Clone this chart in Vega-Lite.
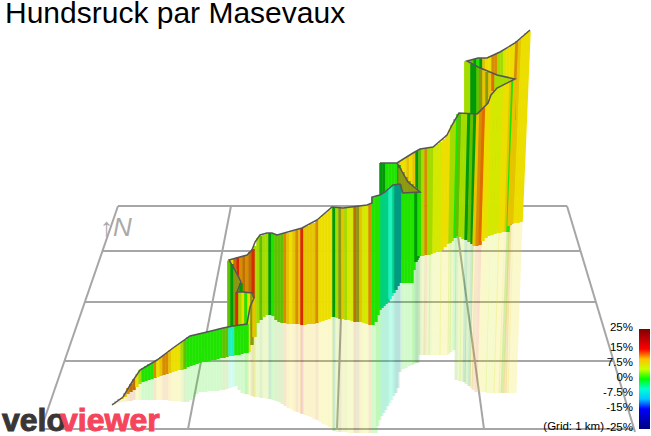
{
  "$schema": "https://vega.github.io/schema/vega-lite/v6.json",
  "width": 651,
  "height": 436,
  "padding": 0,
  "autosize": {"type": "none"},
  "background": "white",
  "title": {"text": "Hundsruck par Masevaux", "anchor": "start", "font": "Liberation Sans", "fontSize": 30, "fontWeight": "normal", "color": "#000", "dx": 5, "dy": 29, "offset": 0, "frame": "group"},
  "config": {"view": {"stroke": null}, "axis": {"disable": true}},
  "datasets": {
    "grid": [
      {"id": "h1", "i": 0, "x": 118, "y": 206}, {"id": "h1", "i": 1, "x": 567, "y": 206},
      {"id": "h2", "i": 0, "x": 103, "y": 251}, {"id": "h2", "i": 1, "x": 581, "y": 251},
      {"id": "h3", "i": 0, "x": 85, "y": 302}, {"id": "h3", "i": 1, "x": 596, "y": 302},
      {"id": "h4", "i": 0, "x": 65, "y": 361}, {"id": "h4", "i": 1, "x": 614, "y": 361},
      {"id": "h5", "i": 0, "x": 41, "y": 429}, {"id": "h5", "i": 1, "x": 635, "y": 429},
      {"id": "v1", "i": 0, "x": 118, "y": 206}, {"id": "v1", "i": 1, "x": 41, "y": 429},
      {"id": "v2", "i": 0, "x": 231, "y": 206}, {"id": "v2", "i": 1, "x": 188, "y": 429},
      {"id": "v3", "i": 0, "x": 345, "y": 206}, {"id": "v3", "i": 1, "x": 337, "y": 429},
      {"id": "v4", "i": 0, "x": 454, "y": 206}, {"id": "v4", "i": 1, "x": 484, "y": 429},
      {"id": "v5", "i": 0, "x": 567, "y": 206}, {"id": "v5", "i": 1, "x": 635, "y": 432}
    ],
    "wall": [
      {"x":466,"t":61,"x2":466,"b":200,"c":"l"},{"x":469,"t":60,"x2":469,"b":200,"c":"l"},{"x":472,"t":60,"x2":472,"b":200,"c":"mg"},{"x":475,"t":59,"x2":475,"b":200,"c":"dg"},{"x":478,"t":58,"x2":478,"b":200,"c":"g"},{"x":481,"t":58,"x2":481,"b":200,"c":"dg"},{"x":484,"t":58,"x2":484,"b":200,"c":"gd"},{"x":487,"t":58,"x2":487,"b":200,"c":"y"},{"x":490,"t":56,"x2":490,"b":200,"c":"y"},{"x":493,"t":55,"x2":493,"b":200,"c":"o"},{"x":496,"t":54,"x2":496,"b":200,"c":"o"},{"x":499,"t":52,"x2":499,"b":200,"c":"l"},{"x":502,"t":51,"x2":502,"b":200,"c":"l"},{"x":505,"t":49,"x2":505,"b":200,"c":"yg"},{"x":508,"t":48,"x2":508,"b":200,"c":"y"},{"x":511,"t":46,"x2":511,"b":200,"c":"y"},{"x":514,"t":44,"x2":507,"b":200,"c":"y"},
      {"x":517,"t":41,"x2":510,"b":225,"rx":505,"rb":393,"c":"o"},{"x":520,"t":39,"x2":512,"b":224,"rx":507,"rb":393,"c":"gd"},{"x":523,"t":36,"x2":515,"b":223,"rx":509,"rb":393,"c":"y"},{"x":526,"t":33,"x2":518,"b":223,"rx":512,"rb":393,"c":"y"},{"x":529,"t":31,"x2":521,"b":222,"rx":515,"rb":393,"c":"y"},
      {"x":466,"t":62,"x2":466,"b":120,"c":"l"},{"x":469,"t":63,"x2":469,"b":120,"c":"l"},{"x":472,"t":64,"x2":472,"b":120,"c":"dg"},{"x":475,"t":65,"x2":475,"b":120,"c":"dg"},{"x":478,"t":67,"x2":478,"b":120,"c":"mg"},{"x":481,"t":68,"x2":481,"b":120,"c":"ol"},{"x":484,"t":70,"x2":484,"b":120,"c":"gd"},{"x":487,"t":72,"x2":487,"b":120,"c":"ol"},{"x":490,"t":73,"x2":490,"b":120,"c":"gd"},{"x":493,"t":74,"x2":493,"b":120,"c":"ro"},{"x":496,"t":75,"x2":496,"b":120,"c":"l"},{"x":499,"t":76,"x2":499,"b":120,"c":"l"},{"x":502,"t":77,"x2":502,"b":120,"c":"l"},{"x":505,"t":77,"x2":505,"b":120,"c":"l"},{"x":508,"t":78,"x2":508,"b":120,"c":"l"},{"x":511,"t":78,"x2":511,"b":120,"c":"l"},{"x":514,"t":79,"x2":514,"b":120,"c":"g"},
      {"x":399,"t":162,"x2":399,"b":260,"c":"gd"},{"x":402,"t":160,"x2":402,"b":260,"c":"y"},{"x":405,"t":158,"x2":405,"b":260,"c":"y"},{"x":408,"t":156,"x2":408,"b":260,"c":"gd"},{"x":411,"t":155,"x2":411,"b":260,"c":"y"},{"x":414,"t":153,"x2":414,"b":260,"c":"gd"},{"x":417,"t":151,"x2":417,"b":260,"c":"dg"},
      {"x":420,"t":149,"x2":420,"b":256,"rx":420,"rb":355,"c":"mg"},{"x":423,"t":149,"x2":423,"b":256,"rx":423,"rb":355,"c":"l"},{"x":426,"t":148,"x2":426,"b":255,"rx":425,"rb":355,"c":"o"},{"x":429,"t":148,"x2":429,"b":255,"rx":428,"rb":355,"c":"l"},{"x":432,"t":147,"x2":431,"b":254,"rx":430,"rb":355,"c":"l"},{"x":435,"t":146,"x2":434,"b":253,"rx":433,"rb":355,"c":"yg"},{"x":438,"t":144,"x2":437,"b":252,"rx":436,"rb":355,"c":"yg"},{"x":441,"t":142,"x2":440,"b":252,"rx":439,"rb":355,"c":"yg"},{"x":444,"t":139,"x2":442,"b":250,"rx":441,"rb":355,"c":"y"},{"x":447,"t":135,"x2":445,"b":247,"rx":444,"rb":355,"c":"y"},{"x":450,"t":130,"x2":448,"b":244,"rx":447,"rb":355,"c":"y"},{"x":452,"t":125,"x2":450,"b":243,"rx":449,"rb":354,"c":"l"},{"x":455,"t":119,"x2":452,"b":241,"rx":451,"rb":352,"c":"l"},{"x":458,"t":114,"x2":455,"b":238,"rx":454,"rb":350,"c":"g"},
      {"x":460,"t":113,"x2":457,"b":236,"rx":456,"rb":380,"c":"mg"},{"x":463,"t":113,"x2":460,"b":237,"rx":459,"rb":381,"c":"l"},{"x":466,"t":113,"x2":463,"b":239,"rx":461,"rb":381,"c":"l"},{"x":469,"t":114,"x2":466,"b":240,"rx":464,"rb":382,"c":"dg"},{"x":472,"t":114,"x2":469,"b":242,"rx":466,"rb":384,"c":"mg"},{"x":475,"t":114,"x2":472,"b":244,"rx":469,"rb":386,"c":"dg"},{"x":478,"t":114,"x2":474,"b":246,"rx":471,"rb":388,"c":"gd"},{"x":481,"t":112,"x2":477,"b":246,"rx":473,"rb":390,"c":"o"},{"x":484,"t":108,"x2":480,"b":245,"rx":476,"rb":392,"c":"ro"},{"x":487,"t":104,"x2":483,"b":241,"rx":479,"rb":392,"c":"y"},{"x":490,"t":97,"x2":486,"b":238,"rx":482,"rb":392,"c":"y"},{"x":493,"t":91,"x2":489,"b":236,"rx":485,"rb":392,"c":"yg"},{"x":496,"t":89,"x2":492,"b":235,"rx":487,"rb":393,"c":"yg"},{"x":499,"t":87,"x2":495,"b":234,"rx":490,"rb":393,"c":"yg"},{"x":502,"t":85,"x2":498,"b":233,"rx":493,"rb":393,"c":"yg"},{"x":505,"t":84,"x2":500,"b":233,"rx":495,"rb":393,"c":"y"},{"x":508,"t":82,"x2":503,"b":232,"rx":498,"rb":393,"c":"y"},{"x":511,"t":81,"x2":506,"b":232,"rx":500,"rb":393,"c":"gd"},{"x":513,"t":80,"x2":508,"b":232,"rx":502,"rb":393,"c":"g"},{"x":515,"t":79,"x2":509,"b":226,"rx":503,"rb":393,"c":"gd"},
      {"x":381,"t":163,"x2":381,"b":200,"c":"dg"},{"x":384,"t":163,"x2":384,"b":200,"c":"dg"},{"x":387,"t":163,"x2":387,"b":200,"c":"g"},{"x":390,"t":163,"x2":390,"b":200,"c":"g"},{"x":393,"t":163,"x2":393,"b":200,"c":"g"},{"x":396,"t":163,"x2":396,"b":200,"c":"g"},{"x":399,"t":165,"x2":399,"b":200,"c":"dg"},
      {"x":400,"t":168,"x2":400,"b":200,"c":"ol"},{"x":403,"t":172,"x2":403,"b":200,"c":"ol"},{"x":406,"t":177,"x2":406,"b":200,"c":"ol"},{"x":409,"t":181,"x2":409,"b":200,"c":"ol"},{"x":412,"t":184,"x2":412,"b":200,"c":"ol"},{"x":415,"t":187,"x2":415,"b":200,"c":"ol"},{"x":418,"t":190,"x2":418,"b":200,"c":"ol"},
      {"x":373,"t":197,"x2":373,"b":325,"rx":373,"rb":433,"c":"g"},{"x":376,"t":196,"x2":376,"b":322,"rx":376,"rb":433,"c":"g"},{"x":378,"t":195,"x2":378,"b":315,"rx":378,"rb":426,"c":"g"},{"x":380,"t":195,"x2":380,"b":310,"rx":380,"rb":420,"c":"g"},{"x":382,"t":194,"x2":382,"b":308,"rx":382,"rb":416,"c":"t"},{"x":384,"t":193,"x2":384,"b":306,"rx":384,"rb":413,"c":"t"},{"x":386,"t":191,"x2":386,"b":304,"rx":386,"rb":410,"c":"t"},{"x":388,"t":189,"x2":388,"b":302,"rx":388,"rb":406,"c":"t"},{"x":390,"t":187,"x2":390,"b":299,"rx":390,"rb":403,"c":"c"},{"x":392,"t":186,"x2":392,"b":296,"rx":392,"rb":400,"c":"c"},{"x":394,"t":185,"x2":394,"b":293,"rx":394,"rb":396,"c":"t"},{"x":396,"t":185,"x2":396,"b":290,"rx":396,"rb":393,"c":"dt"},{"x":398,"t":184,"x2":398,"b":286,"rx":398,"rb":388,"c":"dt"},{"x":400,"t":184,"x2":400,"b":283,"rx":400,"rb":372,"c":"dt"},{"x":403,"t":193,"x2":403,"b":283,"rx":403,"rb":369,"c":"g"},{"x":406,"t":193,"x2":406,"b":283,"rx":406,"rb":368,"c":"g"},{"x":409,"t":193,"x2":409,"b":283,"rx":409,"rb":366,"c":"g"},{"x":412,"t":192,"x2":412,"b":283,"rx":412,"rb":365,"c":"g"},{"x":414,"t":192,"x2":414,"b":270,"rx":414,"rb":364,"c":"g"},{"x":416,"t":192,"x2":416,"b":262,"rx":416,"rb":363,"c":"dg"},{"x":418,"t":192,"x2":418,"b":258,"rx":418,"rb":363,"c":"dg"},{"x":419,"t":192,"x2":419,"b":256,"c":"g"},
      {"x":255,"t":246,"x2":255,"b":337,"rx":255,"rb":397,"c":"l"},{"x":258,"t":238,"x2":258,"b":323,"rx":258,"rb":397,"c":"l"},{"x":261,"t":236,"x2":261,"b":320,"rx":261,"rb":398,"c":"mg"},{"x":264,"t":235,"x2":264,"b":317,"rx":264,"rb":398,"c":"l"},{"x":267,"t":234,"x2":267,"b":315,"rx":267,"rb":399,"c":"l"},{"x":270,"t":233,"x2":270,"b":315,"rx":270,"rb":399,"c":"dg"},{"x":273,"t":234,"x2":273,"b":316,"rx":273,"rb":400,"c":"g"},{"x":276,"t":235,"x2":276,"b":320,"rx":276,"rb":401,"c":"mg"},{"x":279,"t":235,"x2":279,"b":322,"rx":279,"rb":402,"c":"mg"},{"x":282,"t":234,"x2":282,"b":323,"rx":282,"rb":404,"c":"mg"},{"x":285,"t":233,"x2":285,"b":323,"rx":285,"rb":406,"c":"o"},{"x":288,"t":233,"x2":288,"b":324,"rx":288,"rb":408,"c":"gd"},{"x":291,"t":232,"x2":291,"b":324,"rx":291,"rb":409,"c":"y"},{"x":294,"t":231,"x2":294,"b":324,"rx":294,"rb":411,"c":"gd"},{"x":297,"t":230,"x2":297,"b":324,"rx":297,"rb":412,"c":"o"},{"x":300,"t":229,"x2":300,"b":324,"rx":300,"rb":413,"c":"gd"},{"x":302,"t":228,"x2":302,"b":325,"rx":302,"rb":414,"c":"r"},{"x":305,"t":227,"x2":305,"b":325,"rx":305,"rb":415,"c":"gd"},{"x":308,"t":226,"x2":308,"b":324,"rx":308,"rb":416,"c":"gd"},{"x":311,"t":224,"x2":311,"b":324,"rx":311,"rb":417,"c":"gd"},{"x":314,"t":223,"x2":314,"b":324,"rx":314,"rb":419,"c":"gd"},{"x":317,"t":220,"x2":317,"b":323,"rx":317,"rb":420,"c":"o"},{"x":320,"t":218,"x2":320,"b":322,"rx":320,"rb":422,"c":"y"},{"x":323,"t":215,"x2":323,"b":321,"rx":323,"rb":424,"c":"y"},{"x":326,"t":213,"x2":326,"b":320,"rx":326,"rb":425,"c":"y"},{"x":329,"t":210,"x2":329,"b":319,"rx":329,"rb":427,"c":"y"},{"x":332,"t":207,"x2":332,"b":317,"rx":332,"rb":429,"c":"y"},{"x":334,"t":207,"x2":334,"b":317,"rx":334,"rb":431,"c":"dg"},{"x":337,"t":208,"x2":337,"b":318,"rx":337,"rb":432,"c":"l"},{"x":340,"t":208,"x2":340,"b":319,"rx":340,"rb":432,"c":"ol"},{"x":343,"t":208,"x2":343,"b":319,"rx":343,"rb":432,"c":"gd"},{"x":346,"t":207,"x2":346,"b":320,"rx":346,"rb":432,"c":"l"},{"x":349,"t":207,"x2":349,"b":320,"rx":349,"rb":433,"c":"yg"},{"x":352,"t":207,"x2":352,"b":321,"rx":352,"rb":433,"c":"yg"},{"x":355,"t":206,"x2":355,"b":322,"rx":355,"rb":433,"c":"do"},{"x":358,"t":206,"x2":358,"b":322,"rx":358,"rb":433,"c":"ol"},{"x":361,"t":206,"x2":361,"b":322,"rx":361,"rb":433,"c":"gd"},{"x":364,"t":205,"x2":364,"b":323,"rx":364,"rb":433,"c":"yg"},{"x":367,"t":205,"x2":367,"b":324,"rx":367,"rb":433,"c":"yg"},{"x":370,"t":204,"x2":370,"b":325,"rx":370,"rb":433,"c":"o"},
      {"x":229,"t":260,"x2":229,"b":330,"c":"y"},{"x":232,"t":259,"x2":232,"b":330,"c":"y"},{"x":235,"t":258,"x2":235,"b":330,"c":"do"},{"x":238,"t":257,"x2":238,"b":330,"c":"r"},{"x":241,"t":257,"x2":241,"b":330,"c":"o"},{"x":244,"t":256,"x2":244,"b":330,"c":"do"},{"x":247,"t":255,"x2":247,"b":330,"c":"o"},{"x":250,"t":252,"x2":250,"b":330,"c":"do"},{"x":253,"t":249,"x2":253,"b":330,"c":"r"},
      {"x":229,"t":261,"x2":229,"b":330,"c":"mg"},{"x":232,"t":264,"x2":232,"b":330,"c":"dg"},{"x":235,"t":269,"x2":235,"b":330,"c":"ol"},{"x":238,"t":275,"x2":238,"b":330,"c":"ol"},{"x":241,"t":283,"x2":241,"b":330,"c":"dg"},
      {"x":237,"t":292,"x2":237,"b":330,"c":"r"},{"x":240,"t":292,"x2":240,"b":330,"c":"l"},{"x":243,"t":292,"x2":243,"b":330,"c":"y"},{"x":246,"t":292,"x2":246,"b":330,"c":"g"},{"x":249,"t":293,"x2":249,"b":352,"rx":249,"rb":395,"c":"y"},{"x":252,"t":294,"x2":252,"b":345,"rx":252,"rb":396,"c":"ol"},{"x":254,"t":298,"x2":254,"b":337,"rx":254,"rb":397,"c":"gd"},
      {"x":114,"t":403,"x2":114,"b":404,"rx":114,"rb":405,"c":"y"},{"x":116,"t":401,"x2":116,"b":402,"rx":116,"rb":404,"c":"y"},{"x":119,"t":399,"x2":119,"b":400,"rx":119,"rb":403,"c":"gd"},{"x":122,"t":398,"x2":122,"b":399,"rx":122,"rb":402,"c":"gd"},{"x":125,"t":393,"x2":125,"b":397,"rx":125,"rb":402,"c":"gd"},{"x":128,"t":388,"x2":128,"b":394,"rx":128,"rb":401,"c":"o"},{"x":131,"t":384,"x2":131,"b":392,"rx":131,"rb":401,"c":"do"},{"x":134,"t":379,"x2":134,"b":390,"rx":134,"rb":400,"c":"do"},{"x":137,"t":374,"x2":137,"b":387,"rx":137,"rb":400,"c":"y"},{"x":140,"t":370,"x2":140,"b":384,"rx":140,"rb":400,"c":"l"},{"x":143,"t":368,"x2":143,"b":382,"rx":143,"rb":400,"c":"g"},{"x":146,"t":366,"x2":146,"b":381,"rx":146,"rb":400,"c":"g"},{"x":149,"t":364,"x2":149,"b":380,"rx":149,"rb":400,"c":"g"},{"x":152,"t":363,"x2":152,"b":379,"rx":152,"rb":400,"c":"g"},{"x":155,"t":361,"x2":155,"b":378,"rx":155,"rb":400,"c":"o"},{"x":158,"t":359,"x2":158,"b":377,"rx":158,"rb":400,"c":"y"},{"x":161,"t":357,"x2":161,"b":376,"rx":161,"rb":400,"c":"gd"},{"x":164,"t":355,"x2":164,"b":375,"rx":164,"rb":400,"c":"o"},{"x":167,"t":353,"x2":167,"b":374,"rx":167,"rb":400,"c":"o"},{"x":170,"t":350,"x2":170,"b":373,"rx":170,"rb":401,"c":"gd"},{"x":173,"t":348,"x2":173,"b":372,"rx":173,"rb":401,"c":"y"},{"x":176,"t":346,"x2":176,"b":371,"rx":176,"rb":401,"c":"y"},{"x":179,"t":344,"x2":179,"b":370,"rx":179,"rb":401,"c":"y"},{"x":182,"t":342,"x2":182,"b":370,"rx":182,"rb":402,"c":"l"},{"x":185,"t":340,"x2":185,"b":369,"rx":185,"rb":402,"c":"mg"},{"x":188,"t":337,"x2":188,"b":367,"rx":188,"rb":402,"c":"g"},{"x":191,"t":336,"x2":191,"b":366,"rx":191,"rb":400,"c":"g"},{"x":194,"t":335,"x2":194,"b":365,"rx":194,"rb":397,"c":"g"},{"x":197,"t":334,"x2":197,"b":364,"rx":197,"rb":394,"c":"g"},{"x":200,"t":333,"x2":200,"b":363,"rx":200,"rb":392,"c":"g"},{"x":203,"t":333,"x2":203,"b":362,"rx":203,"rb":392,"c":"g"},{"x":206,"t":332,"x2":206,"b":362,"rx":206,"rb":392,"c":"g"},{"x":209,"t":332,"x2":209,"b":361,"rx":209,"rb":391,"c":"g"},{"x":212,"t":331,"x2":212,"b":360,"rx":212,"rb":391,"c":"g"},{"x":215,"t":330,"x2":215,"b":360,"rx":215,"rb":391,"c":"g"},{"x":218,"t":329,"x2":218,"b":359,"rx":218,"rb":391,"c":"g"},{"x":221,"t":329,"x2":221,"b":358,"rx":221,"rb":390,"c":"g"},{"x":224,"t":328,"x2":224,"b":358,"rx":224,"rb":390,"c":"mg"},{"x":227,"t":327,"x2":227,"b":357,"rx":227,"rb":389,"c":"mg"},{"x":230,"t":327,"x2":230,"b":356,"rx":230,"rb":388,"c":"c"},{"x":233,"t":326,"x2":233,"b":356,"rx":233,"rb":387,"c":"c"},{"x":236,"t":326,"x2":236,"b":355,"rx":236,"rb":386,"c":"g"},{"x":239,"t":325,"x2":239,"b":355,"rx":239,"rb":390,"c":"g"},{"x":242,"t":325,"x2":242,"b":354,"rx":242,"rb":393,"c":"g"},{"x":245,"t":324,"x2":245,"b":353,"rx":245,"rb":394,"c":"g"},{"x":247,"t":324,"x2":247,"b":353,"rx":247,"rb":394,"c":"g"}
    ],
    "ribbon": [
      {"i":0,"x":112,"y":405},{"i":1,"x":123,"y":397},{"i":2,"x":132,"y":382},{"i":3,"x":140,"y":370},{"i":4,"x":157,"y":360},{"i":5,"x":173,"y":348},{"i":6,"x":190,"y":336},{"i":7,"x":207,"y":332},{"i":8,"x":223,"y":328},{"i":9,"x":233,"y":326},{"i":10,"x":247,"y":324},{"i":11,"x":250,"y":307},{"i":12,"x":254,"y":298},{"i":13,"x":252,"y":293},{"i":14,"x":243,"y":292},{"i":15,"x":237,"y":292},{"i":16,"x":241,"y":282},{"i":17,"x":235,"y":270},{"i":18,"x":229,"y":260},{"i":19,"x":247,"y":255},{"i":20,"x":252,"y":250},{"i":21,"x":255,"y":242},{"i":22,"x":260,"y":235},{"i":23,"x":267,"y":233},{"i":24,"x":272,"y":233},{"i":25,"x":277,"y":235},{"i":26,"x":302,"y":228},{"i":27,"x":317,"y":220},{"i":28,"x":332,"y":207},{"i":29,"x":343,"y":208},{"i":30,"x":367,"y":205},{"i":31,"x":372,"y":203},{"i":32,"x":372,"y":197},{"i":33,"x":380,"y":195},{"i":34,"x":385,"y":192},{"i":35,"x":393,"y":185},{"i":36,"x":400,"y":184},{"i":37,"x":403,"y":193},{"i":38,"x":420,"y":192},{"i":39,"x":408,"y":182},{"i":40,"x":400,"y":168},{"i":41,"x":397,"y":163},{"i":42,"x":380,"y":163},{"i":43,"x":397,"y":163},{"i":44,"x":413,"y":153},{"i":45,"x":420,"y":149},{"i":46,"x":433,"y":147},{"i":47,"x":447,"y":135},{"i":48,"x":452,"y":125},{"i":49,"x":459,"y":113},{"i":50,"x":477,"y":114},{"i":51,"x":488,"y":103},{"i":52,"x":491,"y":95},{"i":53,"x":497,"y":88},{"i":54,"x":515,"y":79},{"i":55,"x":497,"y":75},{"i":56,"x":478,"y":67},{"i":57,"x":467,"y":61},{"i":58,"x":478,"y":58},{"i":59,"x":487,"y":58},{"i":60,"x":500,"y":52},{"i":61,"x":515,"y":43},{"i":62,"x":530,"y":30}
    ],
    "grades": [
      {"grade": 25, "label": "25%", "x": 644, "y": 329, "ly": 328},
      {"grade": 15, "label": "15%", "x": 644, "y": 349, "ly": 348},
      {"grade": 7.5, "label": "7.5%", "x": 644, "y": 364, "ly": 363},
      {"grade": 0, "label": "0%", "x": 644, "y": 379, "ly": 378},
      {"grade": -7.5, "label": "-7.5%", "x": 644, "y": 394, "ly": 393},
      {"grade": -15, "label": "-15%", "x": 644, "y": 409, "ly": 408},
      {"grade": -25, "label": "-25%", "x": 644, "y": 429, "ly": 428}
    ]
  },
  "layer": [
    {
      "data": {"name": "grid"},
      "mark": {"type": "line", "stroke": "#a6a6a6", "strokeWidth": 2},
      "encoding": {
        "x": {"field": "x", "type": "quantitative", "scale": {"domain": [0, 651], "nice": false, "zero": false}},
        "y": {"field": "y", "type": "quantitative", "scale": {"domain": [436, 0], "nice": false, "zero": false}},
        "detail": {"field": "id"},
        "order": {"field": "i"}
      }
    },
    {
      "data": {"name": "wall"},
      "transform": [{"filter": "isValid(datum.rb)"}],
      "mark": {"type": "rule", "strokeWidth": 3, "opacity": 0.2},
      "encoding": {
        "x": {"field": "x2", "type": "quantitative", "scale": {"domain": [0, 651], "nice": false, "zero": false}},
        "x2": {"field": "rx"},
        "y": {"field": "b", "type": "quantitative", "scale": {"domain": [436, 0], "nice": false, "zero": false}},
        "y2": {"field": "rb"},
        "color": {"field": "c", "type": "nominal", "legend": null, "scale": {"domain": ["y","yg","l","g","mg","dg","gd","o","do","ro","r","t","dt","c","ol"], "range": ["#ecdf00","#d4e800","#a4dc00","#1fe400","#62c000","#009a08","#e6c400","#d88c00","#c07000","#e26a00","#d82a00","#00d080","#009a80","#20f0c0","#8a9a10"]}}
      }
    },
    {
      "data": {"name": "wall"},
      "mark": {"type": "rule", "strokeWidth": 3.5},
      "encoding": {
        "x": {"field": "x", "type": "quantitative", "scale": {"domain": [0, 651], "nice": false, "zero": false}},
        "x2": {"field": "x2"},
        "y": {"field": "t", "type": "quantitative", "scale": {"domain": [436, 0], "nice": false, "zero": false}},
        "y2": {"field": "b"},
        "color": {"field": "c", "type": "nominal", "legend": null}
      }
    },
    {
      "data": {"name": "ribbon"},
      "mark": {"type": "line", "stroke": "#555", "strokeWidth": 1.5, "interpolate": "linear"},
      "encoding": {
        "x": {"field": "x", "type": "quantitative", "scale": {"domain": [0, 651], "nice": false, "zero": false}},
        "y": {"field": "y", "type": "quantitative", "scale": {"domain": [436, 0], "nice": false, "zero": false}},
        "order": {"field": "i"}
      }
    },
    {
      "data": {"name": "grades"},
      "mark": {"type": "point", "size": 0, "filled": true, "opacity": 1},
      "encoding": {
        "x": {"field": "x", "type": "quantitative", "scale": {"domain": [0, 651], "nice": false, "zero": false}},
        "y": {"field": "y", "type": "quantitative", "scale": {"domain": [436, 0], "nice": false, "zero": false}},
        "fill": {
          "field": "grade", "type": "quantitative",
          "scale": {"domain": [-25, -15, -7.5, 0, 7.5, 15, 25], "range": ["#000080", "#0000ff", "#00ffff", "#00ff00", "#ffff00", "#ff0000", "#800000"]},
          "legend": {"orient": "none", "legendX": 639, "legendY": 329, "title": null, "gradientLength": 100, "gradientThickness": 11, "gradientStrokeWidth": 0, "labels": false}
        }
      }
    },
    {
      "data": {"name": "grades"},
      "transform": [{"joinaggregate": [{"op": "min", "field": "x", "as": "bar"}]}],
      "mark": {"type": "text", "align": "right", "dx": -11, "font": "Liberation Sans", "fontSize": 11.5, "color": "#000"},
      "encoding": {
        "x": {"field": "x", "type": "quantitative", "scale": {"domain": [0, 651], "nice": false, "zero": false}},
        "y": {"field": "ly", "type": "quantitative", "scale": {"domain": [436, 0], "nice": false, "zero": false}},
        "text": {"field": "label"}
      }
    },
    {
      "data": {"values": [{"x": 604, "y": 427, "label": "(Grid: 1 km)"}]},
      "mark": {"type": "text", "align": "right", "font": "Liberation Sans", "fontSize": 11.5, "color": "#000"},
      "encoding": {
        "x": {"field": "x", "type": "quantitative", "scale": {"domain": [0, 651], "nice": false, "zero": false}},
        "y": {"field": "y", "type": "quantitative", "scale": {"domain": [436, 0], "nice": false, "zero": false}},
        "text": {"field": "label"}
      }
    },
    {
      "data": {"values": [{"x": 100, "y": 236, "label": "↑N"}]},
      "mark": {"type": "text", "align": "left", "baseline": "alphabetic", "font": "Liberation Sans", "fontSize": 26, "fontStyle": "italic", "color": "#aaa"},
      "encoding": {
        "x": {"field": "x", "type": "quantitative", "scale": {"domain": [0, 651], "nice": false, "zero": false}},
        "y": {"field": "y", "type": "quantitative", "scale": {"domain": [436, 0], "nice": false, "zero": false}},
        "text": {"field": "label"}
      }
    },
    {
      "data": {"values": [{"x": 2, "y": 431, "label": "velo"}]},
      "mark": {"type": "text", "align": "left", "baseline": "alphabetic", "font": "Liberation Sans", "fontSize": 32, "fontWeight": "bold", "color": "#3a3636", "stroke": "#3a3636", "strokeWidth": 1},
      "encoding": {
        "x": {"field": "x", "type": "quantitative", "scale": {"domain": [0, 651], "nice": false, "zero": false}},
        "y": {"field": "y", "type": "quantitative", "scale": {"domain": [436, 0], "nice": false, "zero": false}},
        "text": {"field": "label"}
      }
    },
    {
      "data": {"values": [{"x": 60, "y": 431, "label": "viewer"}]},
      "mark": {"type": "text", "align": "left", "baseline": "alphabetic", "font": "Liberation Sans", "fontSize": 32, "fontWeight": "bold", "color": "#f5455c", "stroke": "#f5455c", "strokeWidth": 1},
      "encoding": {
        "x": {"field": "x", "type": "quantitative", "scale": {"domain": [0, 651], "nice": false, "zero": false}},
        "y": {"field": "y", "type": "quantitative", "scale": {"domain": [436, 0], "nice": false, "zero": false}},
        "text": {"field": "label"}
      }
    }
  ],
  "resolve": {"scale": {"color": "shared"}}
}
